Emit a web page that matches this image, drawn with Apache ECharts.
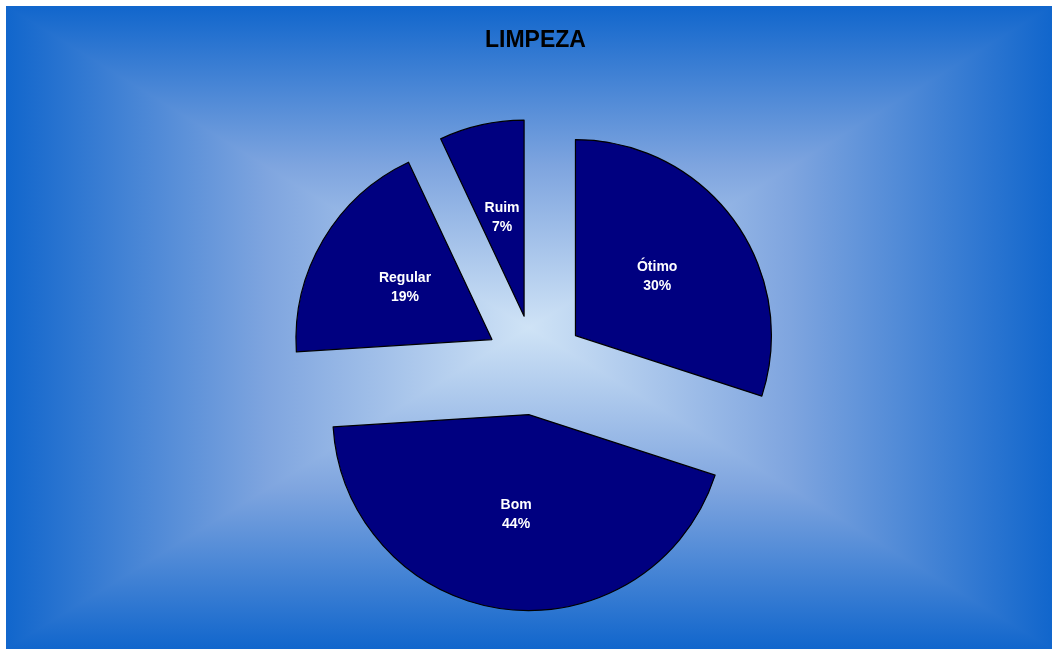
<!DOCTYPE html>
<html>
<head>
<meta charset="utf-8">
<script src="https://cdn.jsdelivr.net/npm/echarts@6/dist/echarts.min.js"></script>
<style>
  html, body { margin: 0; padding: 0; background: #fff; }
  #main { width: 1052px; height: 649px; }
</style>
</head>
<body>
<div id="main"></div>
<script>
// avaliação da limpeza
var categorias = ['Ótimo', 'Bom', 'Regular', 'Ruim'];
var valores = [30, 44, 19, 7];

var myChart = echarts.init(document.getElementById('main'));

// fundo: gradiente retangular a partir do centro
var L = 6, T = 6, R = 1052, B = 649, cx = 529, cy = 328;
var corBorda = '#1166cc', corMeio = '#7fa5df', corCentro = '#cfe3f6';
function grad(x, y, x2, y2) {
    return new echarts.graphic.LinearGradient(x, y, x2, y2, [
        { offset: 0, color: corBorda },
        { offset: 0.5, color: corMeio },
        { offset: 1, color: corCentro }
    ]);
}
// base: gradiente horizontal (borda -> centro -> borda)
var base = {
    type: 'rect',
    silent: true,
    z: -11,
    shape: { x: L, y: T, width: R - L, height: B - T },
    style: {
        fill: new echarts.graphic.LinearGradient(0, 0, 1, 0, [
            { offset: 0, color: corBorda },
            { offset: 0.25, color: corMeio },
            { offset: (cx - L) / (R - L), color: corCentro },
            { offset: 0.75, color: corMeio },
            { offset: 1, color: corBorda }
        ])
    }
};
// triângulos de cima e de baixo
var tris = [
    { pts: [[L, T], [R, T], [cx, cy]], fill: grad(0, 0, 0, 1) },
    { pts: [[L, B], [R, B], [cx, cy]], fill: grad(0, 1, 0, 0) }
].map(function (t) {
    return {
        type: 'polygon',
        silent: true,
        z: -10,
        shape: { points: t.pts },
        style: { fill: t.fill }
    };
});

var dados = categorias.map(function (c, i) {
    return { name: c, value: valores[i], selected: true };
});

option = {
    backgroundColor: '#ffffff',
    graphic: [base].concat(tris),
    title: {
        text: 'LIMPEZA',
        left: 485,
        top: 29,
        padding: 0,
        textStyle: {
            fontFamily: 'Liberation Sans, Arial, sans-serif',
            fontSize: 23,
            fontWeight: 'bold',
            color: '#000'
        }
    },
    series: [
        {
            name: 'Limpeza',
            type: 'pie',
            center: [535, 365],
            radius: 196,
            startAngle: 90,
            clockwise: true,
            selectedMode: 'multiple',
            selectedOffset: 50,
            percentPrecision: 0,
            silent: true,
            itemStyle: {
                color: '#000080',
                borderColor: '#000',
                borderWidth: 1.2
            },
            label: {
                position: 'inside',
                formatter: '{b}\n{d}%',
                color: '#fff',
                fontFamily: 'Liberation Sans, Arial, sans-serif',
                fontSize: 14,
                fontWeight: 'bold',
                lineHeight: 19
            },
            labelLine: { show: false },
            emphasis: { scale: false },
            data: dados
        }
    ]
};

myChart.setOption(option);
</script>
</body>
</html>
